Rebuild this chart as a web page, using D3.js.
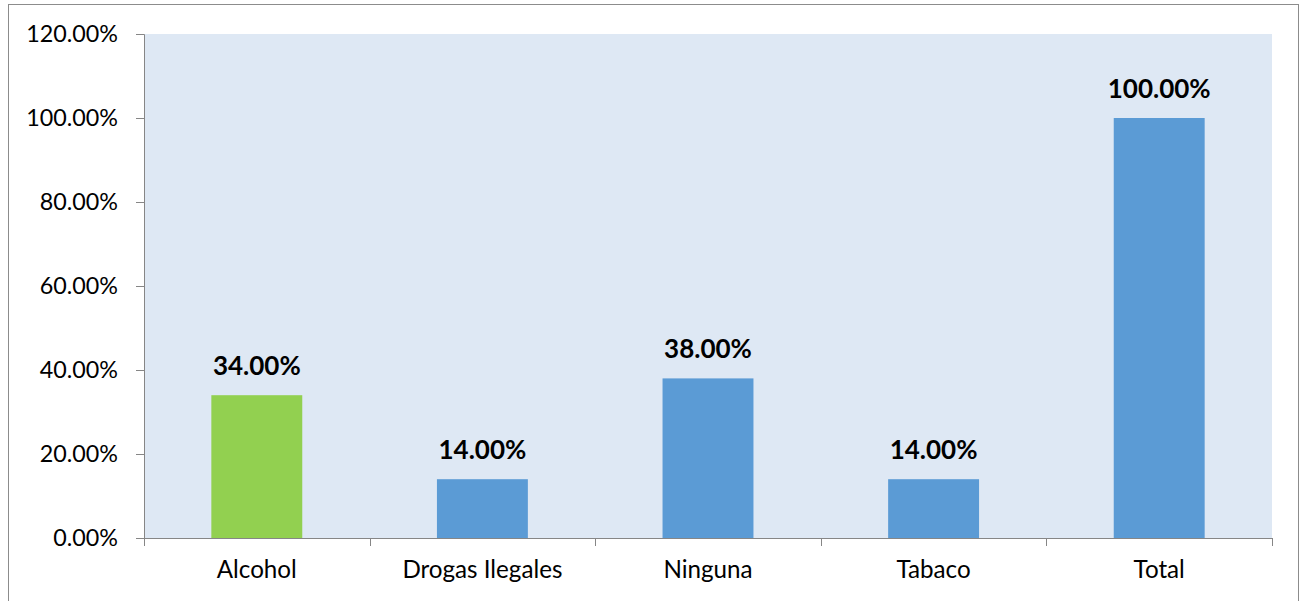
<!DOCTYPE html>
<html><head><meta charset="utf-8">
<script src="https://cdn.jsdelivr.net/npm/d3@7"></script>
<style>body{margin:0;background:#fff;}svg{display:block;}</style>
</head><body>
<svg id="chart" width="1303" height="601"></svg>
<script>
const categories = ["Alcohol", "Drogas Ilegales", "Ninguna", "Tabaco", "Total"];
const values = [34, 14, 38, 14, 100];
const barColors = ["#92D050", "#5B9BD5", "#5B9BD5", "#5B9BD5", "#5B9BD5"];
const yTicks = [0, 20, 40, 60, 80, 100, 120];

const svg = d3.select("#chart");
const font = "Lato, 'Open Sans', sans-serif";
svg.append("rect").attr("x", 8.5).attr("y", 4.5).attr("width", 1290).attr("height", 610)
  .attr("fill", "#fff").attr("stroke", "#8C8C8C").attr("stroke-width", 1);

const m = {left: 144, right: 1272, top: 34, bottom: 538};
const x = d3.scaleBand().domain(categories).range([m.left, m.right]).paddingInner(0.597).paddingOuter(0.2985);
const y = d3.scaleLinear().domain([0, 120]).range([m.bottom, m.top]);

svg.append("rect").attr("x", m.left).attr("y", m.top).attr("width", m.right - m.left).attr("height", m.bottom - m.top)
  .attr("fill", "#DEE8F4");

svg.selectAll("rect.bar").data(values).enter().append("rect").attr("class", "bar")
  .attr("x", (d, i) => x(categories[i])).attr("width", x.bandwidth())
  .attr("y", d => y(d)).attr("height", d => y(0) - y(d))
  .attr("fill", (d, i) => barColors[i]);

const yAxis = d3.axisLeft(y).tickValues(yTicks).tickSize(8).tickPadding(18).tickFormat(d => d.toFixed(2) + "%");
const gy = svg.append("g").attr("transform", `translate(${m.left},0)`).call(yAxis);
gy.select(".domain").attr("stroke", "#868686").attr("d", `M-8,${m.top}.5H0.5V${m.bottom}`);
gy.selectAll(".tick line").attr("stroke", "#868686");
gy.selectAll(".tick text").attr("font-family", font).attr("font-size", 23.3).attr("fill", "#000");

const step = x.step();
const bounds = d3.range(categories.length + 1).map(i => m.left + i * step);
const gx = svg.append("g");
gx.append("line").attr("x1", m.left).attr("x2", m.right).attr("y1", m.bottom + 0.5).attr("y2", m.bottom + 0.5).attr("stroke", "#868686");
gx.selectAll("line.t").data(bounds).enter().append("line").attr("class", "t")
  .attr("x1", d => Math.round(d) + 0.5).attr("x2", d => Math.round(d) + 0.5)
  .attr("y1", m.bottom).attr("y2", m.bottom + 8).attr("stroke", "#868686");
gx.selectAll("text").data(categories).enter().append("text")
  .attr("x", d => x(d) + x.bandwidth() / 2).attr("y", 578)
  .attr("text-anchor", "middle").attr("font-family", font).attr("font-size", 24.2).attr("fill", "#000")
  .text(d => d);

svg.selectAll("text.lbl").data(values).enter().append("text").attr("class", "lbl")
  .attr("x", (d, i) => x(categories[i]) + x.bandwidth() / 2).attr("y", d => y(d) - 20)
  .attr("text-anchor", "middle").attr("font-family", font).attr("font-weight", "bold").attr("font-size", 26).attr("fill", "#000")
  .text(d => d.toFixed(2) + "%");
</script>
</body></html>
